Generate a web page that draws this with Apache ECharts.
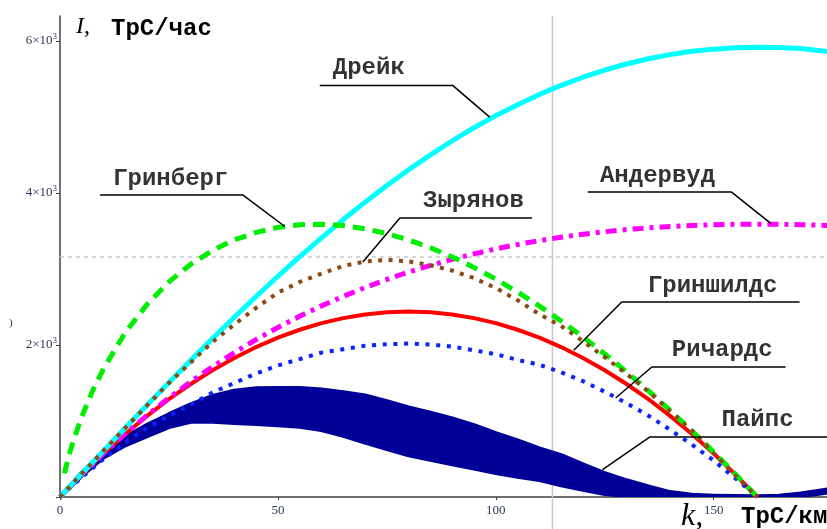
<!DOCTYPE html>
<html>
<head>
<meta charset="utf-8">
<script src="https://cdn.jsdelivr.net/npm/echarts@6/dist/echarts.min.js"></script>
<style>
    html,body{margin:0;padding:0;background:#fff;}
    #chart{width:827px;height:529px;}
</style>
</head>
<body>
<div id="chart"></div>
<script>
    // плотность k, ТрС/км
    var kLong=[0,5,10,15,20,25,30,35,40,45,50,55,60,65,70,75,80,85,90,95,100,105,110,115,120,125,130,135,140,145,150,155,160,165,170,175,180];
    var kShort=[0,5,10,15,20,25,30,35,40,45,50,55,60,65,70,75,80,85,90,95,100,105,110,115,120,125,130,135,140,145,150,155,160];
    var kGreenberg=[1,2,3,5,7.5,10,15,20,25,30,35,40,45,50,55,60,65,70,75,80,85,90,95,100,105,110,115,120,125,130,135,140,145,150,155,160];

    // интенсивность I, ТрС/час
    var drake=[0,305,609,911,1210,1506,1798,2085,2365,2639,2905,3163,3411,3651,3880,4099,4307,4502,4688,4860,5019,5163,5298,5418,5524,5619,5699,5768,5822,5866,5894,5911,5920,5914,5901,5871,5830];
    var underwood=[0,296,573,833,1077,1304,1517,1715,1900,2072,2231,2379,2515,2641,2757,2863,2960,3048,3128,3200,3265,3323,3374,3419,3458,3491,3519,3542,3560,3574,3583,3589,3591,3589,3584,3576,3565];
    var greenshields=[0,295,572,829,1068,1287,1487,1668,1830,1973,2097,2201,2288,2354,2402,2431,2440,2431,2402,2354,2288,2201,2097,1973,1830,1668,1487,1287,1068,829,572,295,0];
    var zyryanov=[0,305,610,910,1205,1500,1770,2040,2270,2490,2690,2830,2940,3040,3100,3120,3100,3050,2980,2880,2750,2590,2405,2250,2050,1840,1620,1390,1130,870,575,280,0];
    var richards=[0,260,500,720,910,1070,1215,1375,1500,1625,1730,1815,1900,1945,1990,2010,2020,2007,1980,1930,1880,1805,1740,1640,1525,1385,1235,1070,885,690,480,245,0];
    var greenberg=[310,535,728,1057,1400,1691,2166,2537,2831,3063,3245,3383,3482,3548,3583,3590,3572,3530,3467,3383,3281,3159,3021,2867,2697,2514,2316,2106,1882,1647,1399,1140,871,591,300,0];
    var pipesHigh=[0,320,590,790,950,1090,1220,1330,1400,1430,1435,1435,1415,1380,1335,1260,1180,1110,1035,945,840,745,641,550,430,315,220,140,65,30,18,12,10,18,45,90,130];
    var pipesLow=[0,280,520,680,800,920,990,990,975,960,945,925,880,805,715,630,550,490,430,375,315,265,224,155,95,40,10,0,0,0,0,0,0,0,10,50,80];

    var names=['Дрейк','Гринберг','Зырянов','Андервуд','Гриншилдс','Ричардс','Пайпс'];
    var yTicks=[2000,4000,6000];
    var xTicks=[0,50,100,150];

    function pairs(ks,vs){
        return ks.map(function(k,i){return [k,vs[i]];});
    }

    var labelFont='"Liberation Mono", "DejaVu Sans Mono", monospace';

    function leader(pts){
        return {
            type:'line',
            silent:true,
            symbol:'none',
            z:5,
            lineStyle:{color:'#000',width:1.5},
            data:pts
        };
    }

    var chart=echarts.init(document.getElementById('chart'));
    var option={
        animation:false,
        grid:{left:60,top:16,right:0,bottom:32,containLabel:false},
        xAxis:{
            type:'value',
            min:0,
            max:176,
            interval:50,
            splitLine:{show:false},
            axisLine:{onZero:false,lineStyle:{color:'#404040',width:1.5}},
            axisTick:{length:3,lineStyle:{color:'#404040'}},
            axisLabel:{
                showMaxLabel:false,
                margin:7,
                color:'#2b3a55',
                fontFamily:'"Liberation Serif", serif',
                fontSize:13,
                formatter:function(v){return xTicks.indexOf(v)>=0?String(v):'';}
            }
        },
        yAxis:{
            type:'value',
            min:0,
            max:6330,
            interval:2000,
            splitLine:{show:false},
            axisLine:{onZero:false,lineStyle:{color:'#404040',width:1.5}},
            axisTick:{length:4,lineStyle:{color:'#404040'}},
            axisLabel:{
                showMaxLabel:false,
                margin:3,
                color:'#2b3a55',
                formatter:function(v){
                    if(yTicks.indexOf(v)<0) return '';
                    return '{m|'+(v/1000)+'×10}{s|3}';
                },
                rich:{
                    m:{fontFamily:'"Liberation Serif", serif',fontSize:13,color:'#2b3a55'},
                    s:{fontFamily:'"Liberation Serif", serif',fontSize:9,color:'#2b3a55',padding:[0,0,8,0]}
                }
            }
        },
        series:[
            {
                type:'custom',
                name:names[6],
                clip:true,
                z:2,
                data:[[0,0]],
                encode:{x:0,y:1},
                renderItem:function(params,api){
                    var pts=[];
                    for(var i=0;i<kLong.length;i++) pts.push(api.coord([kLong[i],pipesHigh[i]]));
                    for(var j=kLong.length-1;j>=0;j--) pts.push(api.coord([kLong[j],pipesLow[j]]));
                    return {
                        type:'polygon',
                        shape:{points:pts},
                        style:{fill:'#000099',stroke:'#000099',lineWidth:4,lineJoin:'round'}
                    };
                }
            },
            {
                type:'line',name:names[4],symbol:'none',z:3,
                lineStyle:{color:'#ff0000',width:4},
                data:pairs(kShort,greenshields)
            },
            {
                type:'line',name:names[5],symbol:'none',z:3,
                lineStyle:{color:'#0a22ff',width:4,type:[4,6.7],cap:'butt'},
                data:pairs(kShort,richards)
            },
            {
                type:'line',name:names[3],symbol:'none',z:3,
                lineStyle:{color:'#ff00ff',width:5,type:[11,6,4,6],cap:'butt'},
                data:pairs(kLong,underwood)
            },
            {
                type:'line',name:names[0],symbol:'none',z:3,
                lineStyle:{color:'#00ffff',width:5},
                data:pairs(kLong,drake)
            },
            {
                type:'line',name:names[1],symbol:'none',z:3,
                lineStyle:{color:'#00ee00',width:5,type:[12,8],cap:'butt'},
                data:pairs(kGreenberg,greenberg)
            },
            {
                type:'line',name:names[2],symbol:'none',z:4,
                lineStyle:{color:'#8b4a14',width:4,type:[4,6.4],cap:'butt'},
                data:pairs(kShort,zyryanov)
            },
            leader([[59.6,5417],[90.1,5417],[98.6,5000]]),
            leader([[9.2,3974],[42,3974],[51.6,3560]]),
            leader([[69.5,3092],[78,3671],[108.3,3671]]),
            leader([[121.1,4013],[154.1,4013],[163.1,3600]]),
            leader([[117.9,1930],[128.9,2566],[169.7,2566]]),
            leader([[127.5,1303],[135.8,1711],[166.5,1711]]),
            leader([[124.5,360],[135.3,789],[180,789]]),
            {
                type:'scatter',
                silent:true,
                symbolSize:0,
                z:6,
                label:{
                    show:true,
                    position:'right',
                    distance:0,
                    formatter:'{b}',
                    fontFamily:labelFont,
                    fontWeight:'bold',
                    fontSize:24,
                    color:'#000'
                },
                data:[
                    {name:names[0],value:[62.6,5640]},
                    {name:names[1],value:[12.2,4180]},
                    {name:names[2],value:[83.3,3890]},
                    {name:names[3],value:[123.9,4230]},
                    {name:names[4],value:[134.9,2780]},
                    {name:names[5],value:[140.4,1940]},
                    {name:names[6],value:[151.8,1010]}
                ]
            }
        ]
    };
    chart.setOption(option);

    // маркеры трассировки и подписи осей
    var traceX=chart.convertToPixel({xAxisIndex:0},113);
    var traceY=chart.convertToPixel({yAxisIndex:0},3158);
    chart.setOption({
        graphic:[
            {type:'line',z:1,shape:{x1:traceX,y1:16,x2:traceX,y2:529},style:{stroke:'#c8c8c8',lineWidth:1.5}},
            {type:'line',z:1,shape:{x1:60,y1:traceY,x2:827,y2:traceY},style:{stroke:'#c8c8c8',lineWidth:1.5,lineDash:[4,4]}},
            {type:'text',z:10,style:{x:76,y:27,text:'I,',font:'italic 24px "Liberation Serif", serif',fill:'#000',verticalAlign:'middle'}},
            {type:'text',z:10,style:{x:111,y:29,text:'ТрС/час',font:'bold 24px "Liberation Mono", monospace',fill:'#000',verticalAlign:'middle'}},
            {type:'text',z:10,style:{x:681,y:517,text:'k,',font:'italic 32px "Liberation Serif", serif',fill:'#000',verticalAlign:'middle'}},
            {type:'text',z:10,style:{x:741,y:517,text:'ТрС/км',font:'bold 24px "Liberation Mono", monospace',fill:'#000',verticalAlign:'middle'}},
            {type:'text',z:10,style:{x:9,y:323,text:')',font:'11px "Liberation Serif", serif',fill:'#2b3a55',verticalAlign:'middle'}}
        ]
    });
    window.addEventListener('resize',chart.resize);
</script>
</body>
</html>
